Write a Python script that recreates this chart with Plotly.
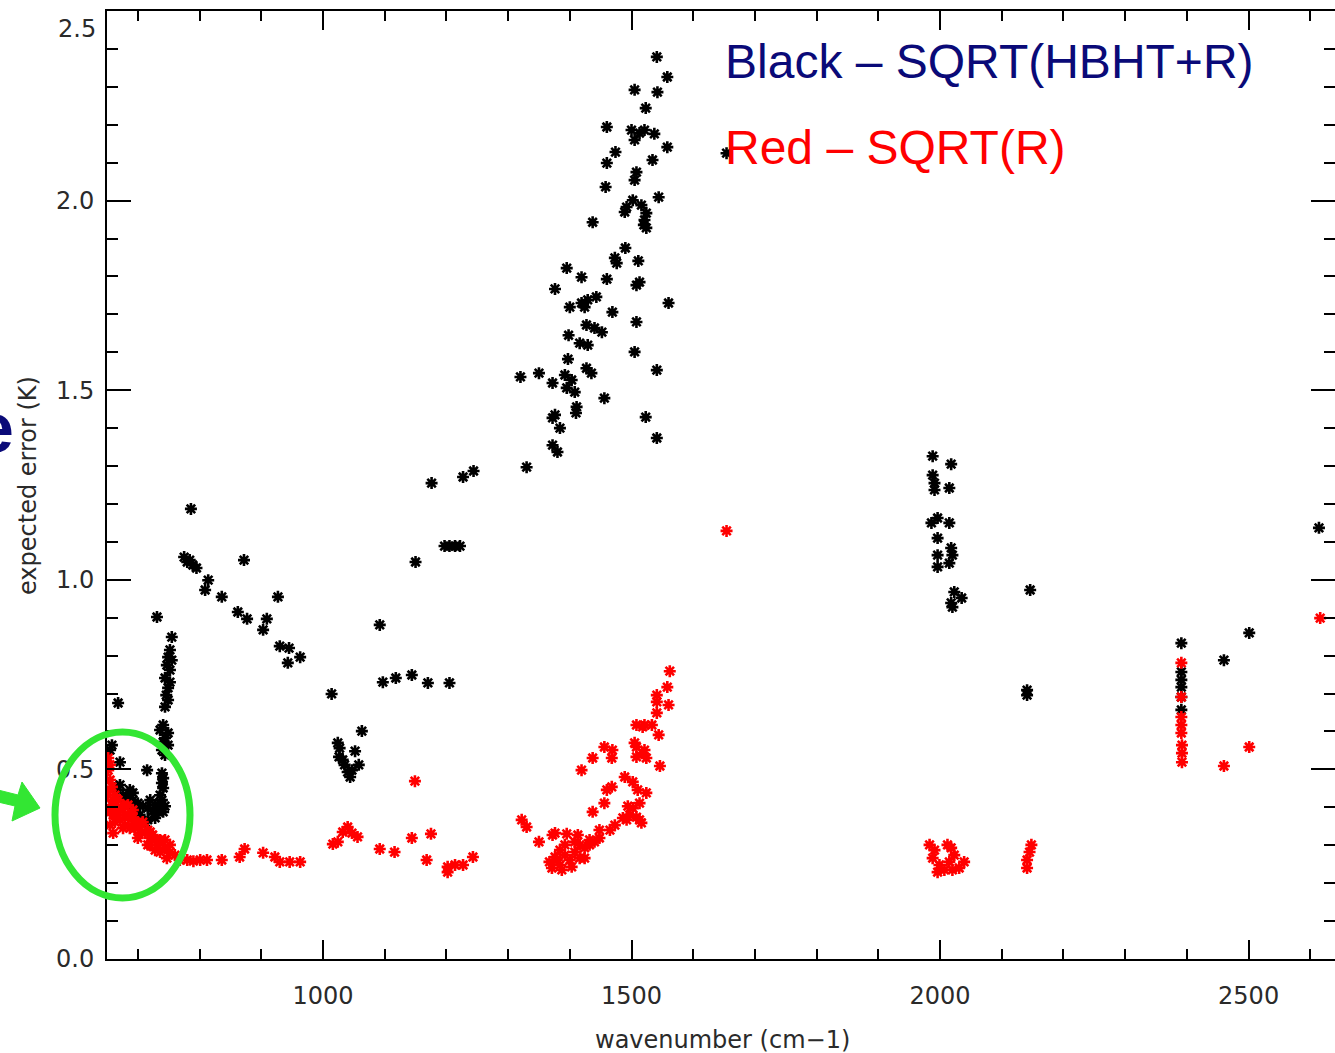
import plotly.graph_objects as go

# ---------------- data (wavenumber cm-1, expected error K) ----------------
black_left = [(655,0.551),(658,0.564),(671,0.519),(668,0.675),(715,0.498),
    (663,0.451),(668,0.446),(676,0.432),(684,0.427),(692,0.419),(700,0.411),(708,0.403),(716,0.398),
    (724,0.390),(733,0.388),(741,0.388),(716,0.367),(703,0.380),(712,0.361),(679,0.419),(695,0.398),
    (728,0.372),(744,0.403),(671,0.459),(687,0.446),(720,0.419),(728,0.406),(736,0.411),(692,0.438)]
black_column = [(731,0.902),(755,0.849),(752,0.815),(749,0.796),(755,0.788),(747,0.775),(752,0.762),
    (744,0.741),(752,0.730),(749,0.715),(746,0.696),(749,0.683),(744,0.665),(741,0.617),(736,0.604),
    (749,0.596),(744,0.583),(741,0.572),(749,0.564),(739,0.551),(744,0.538),(739,0.490),(741,0.477),
    (739,0.464),(741,0.451),(736,0.432),(739,0.419)]
black_arc = [(786,1.187),(780,1.047),(789,1.039),(784,1.052),(795,1.031),(775,1.060),(814,0.999),
    (809,0.973),(836,0.955),(872,1.052),(862,0.915),(877,0.897),(909,0.897),(903,0.868),(927,0.955),
    (930,0.825),(945,0.820),(963,0.796),(943,0.781)]
black_mid = [(1014,0.699),(1063,0.601),(1024,0.570),(1026,0.533),(1052,0.548),(1040,0.493),(1058,0.512),
    (1044,0.480),(1027,0.556),(1035,0.512),(1047,0.498),(1032,0.525),
    (1097,0.730),(1118,0.741),(1144,0.749),(1170,0.728),(1205,0.728),(1092,0.881),
    (1176,1.255),(1227,1.271),(1244,1.287),(1197,1.089),(1205,1.089),(1214,1.089),(1222,1.089),(1150,1.047)]
black_upper = [(1541,2.379),(1558,2.326),(1505,2.292),(1542,2.286),(1523,2.244),(1460,2.194),(1500,2.186),
    (1513,2.178),(1521,2.186),(1505,2.160),(1537,2.176),(1558,2.141),(1474,2.128),(1460,2.099),(1534,2.107),
    (1508,2.075),(1505,2.054),(1458,2.036),(1544,2.009),(1502,2.001),(1492,1.983),(1516,1.988),(1489,1.970),
    (1524,1.967),(1521,1.949),(1524,1.928),(1520,1.936),(1437,1.943),(1490,1.875),(1473,1.849),(1476,1.835),
    (1511,1.841),(1395,1.822),(1419,1.798),(1460,1.793),(1513,1.785),(1508,1.777),(1376,1.767),(1400,1.719),
    (1419,1.730),(1429,1.738),(1443,1.746),(1424,1.719),(1469,1.706),(1560,1.730),(1508,1.680),(1427,1.672),
    (1440,1.664),(1452,1.653),(1398,1.645),(1416,1.624),(1429,1.619),(1505,1.601),(1397,1.582),(1427,1.558),
    (1435,1.545),(1541,1.553),(1320,1.535),(1350,1.545),(1392,1.540),(1403,1.527),(1395,1.506),(1408,1.495),
    (1372,1.519),(1456,1.479),(1411,1.456),(1410,1.440),(1376,1.435),(1372,1.427),(1523,1.429),(1384,1.400),
    (1541,1.374),(1372,1.355),(1380,1.337),(1330,1.297),(1654,2.125)]
black_right = [(1988,1.326),(2018,1.305),(1988,1.276),(1991,1.255),(1991,1.237),(2015,1.242),(1986,1.150),
    (1996,1.163),(2015,1.150),(1996,1.110),(1996,1.065),(2018,1.084),(2020,1.065),(2015,1.044),(1996,1.034),
    (2023,0.968),(2035,0.952),(2020,0.928),(2018,0.939),
    (2146,0.973),(2141,0.709),(2141,0.696),
    (2391,0.833),(2391,0.757),(2391,0.717),(2391,0.691),(2391,0.657),(2391,0.736),(2460,0.788),(2501,0.860),
    (2614,1.137)]

red_left = [(652,0.530),(655,0.512),(652,0.498),(655,0.472),(658,0.454),(652,0.432),(663,0.432),(668,0.419),
    (658,0.406),(671,0.393),(679,0.380),(684,0.406),(692,0.372),(700,0.361),(687,0.345),(703,0.340),(712,0.332),
    (720,0.319),(728,0.314),(733,0.301),(744,0.293),(736,0.282),(752,0.282),(760,0.274),(747,0.266),(768,0.261),
    (671,0.367),(679,0.353),(660,0.380),(655,0.353),(660,0.332),(716,0.301),(728,0.287),(676,0.395),(690,0.385),
    (705,0.355),(695,0.350),(720,0.335),
    (655,0.446),(660,0.419),(655,0.388),(668,0.388),(663,0.361),(676,0.406),(684,0.372),(676,0.345),
    (692,0.393),(695,0.345),(708,0.361),(716,0.340),(700,0.319),(724,0.327),(736,0.314),(744,0.314),
    (752,0.301),(720,0.301)]
red_flat = [(780,0.261),(801,0.261),(812,0.261),(836,0.261),(790,0.258),(865,0.269),(873,0.290),(903,0.280),
    (922,0.269),(930,0.256),(946,0.256),(963,0.256),
    (1016,0.303),(1024,0.309),(1040,0.348),(1047,0.332),(1056,0.322),(1032,0.335),(1092,0.290),(1116,0.282),
    (1144,0.319),(1175,0.330),(1149,0.469),(1168,0.261),(1202,0.243),(1214,0.248),(1227,0.248),(1243,0.269),
    (1202,0.229)]
red_rise = [(1322,0.367),(1330,0.348),(1350,0.309),(1372,0.327),(1379,0.261),(1367,0.256),(1376,0.269),
    (1384,0.248),(1392,0.274),(1384,0.287),(1400,0.261),(1408,0.282),(1416,0.266),(1424,0.293),(1432,0.301),
    (1424,0.266),(1440,0.309),(1448,0.319),(1392,0.301),(1408,0.309),(1371,0.240),(1387,0.235),(1403,0.243),
    (1416,0.301),(1395,0.330),(1413,0.327),(1432,0.314),(1376,0.332),
    (1419,0.498),(1437,0.530),(1456,0.559),(1469,0.551),(1468,0.530),(1508,0.617),(1518,0.612),(1508,0.559),
    (1508,0.533),(1518,0.543),(1489,0.480),(1460,0.446),(1468,0.454),(1456,0.411),(1437,0.388),(1502,0.467),
    (1510,0.446),(1513,0.411),(1502,0.398),(1513,0.367),(1486,0.372),(1473,0.353),(1448,0.340),(1465,0.340),
    (1494,0.403),(1497,0.380),(1492,0.367),(1508,0.374),(1516,0.359),(1524,0.438),
    (1562,0.759),(1558,0.717),(1541,0.696),(1541,0.678),(1560,0.670),(1541,0.649),(1521,0.617),(1533,0.617),
    (1544,0.591),(1505,0.570),(1521,0.551),(1524,0.530),(1546,0.509),(1654,1.129)]
red_right = [(1983,0.301),(1991,0.287),(1988,0.266),(1999,0.248),(2007,0.235),(2015,0.256),(2018,0.293),
    (2023,0.274),(2031,0.240),(2039,0.256),(2012,0.301),(1996,0.229),(2020,0.235),
    (2148,0.301),(2145,0.282),(2141,0.261),(2141,0.240),
    (2391,0.781),(2391,0.691),(2391,0.638),(2391,0.596),(2392,0.564),(2392,0.543),(2392,0.519),(2391,0.617),
    (2501,0.559),(2460,0.509),(2616,0.899)]

x_major_ticks = [1000, 1500, 2000, 2500]
y_major_ticks = [0.0, 0.5, 1.0, 1.5, 2.0]
y_tick_labels = ["0.0", "0.5", "1.0", "1.5", "2.0"]

black_pts = black_left + black_column + black_arc + black_mid + black_upper + black_right
red_pts = red_left + red_flat + red_rise + red_right

# ---------------- layout geometry ----------------
W, H = 1335, 1053
L, R, T, B = 107, 0, 11, 94
PW, PH = W - L - R, H - T - B

def pxx(x):
    return (x - L) / PW

def pxy(y):
    return (T + PH - y) / PH

TICKFONT = dict(family="DejaVu Sans", size=24, color="#2a2a2a")
GREEN = "#33e633"
NAVY = "#0a0a78"

fig = go.Figure()
marker_common = dict(symbol="asterisk-open", size=10)
fig.add_trace(go.Scatter(x=[p[0] for p in black_pts], y=[p[1] for p in black_pts], mode="markers",
                         marker=dict(color="black", line=dict(color="black", width=2.6), **marker_common),
                         showlegend=False, hoverinfo="skip"))
fig.add_trace(go.Scatter(x=[p[0] for p in red_pts], y=[p[1] for p in red_pts], mode="markers",
                         marker=dict(color="#ff0000", line=dict(color="#ff0000", width=2.6), **marker_common),
                         showlegend=False, hoverinfo="skip"))

fig.update_layout(
    width=W, height=H, margin=dict(l=L, r=R, t=T, b=B, autoexpand=False),
    paper_bgcolor="white", plot_bgcolor="white",
    xaxis=dict(range=[650, 2640], tickmode="array", tickvals=x_major_ticks,
               ticks="inside", ticklen=19, tickwidth=2, tickcolor="black",
               showline=True, linewidth=2, linecolor="black", mirror="ticks",
               showgrid=False, zeroline=False, tickfont=TICKFONT, ticklabelstandoff=14,
               minor=dict(tickmode="linear", tick0=0, dtick=100, ticks="inside", ticklen=10,
                          tickwidth=2, tickcolor="black", showgrid=False)),
    yaxis=dict(range=[0, 2.5], tickmode="array", tickvals=y_major_ticks, ticktext=y_tick_labels,
               ticks="inside", ticklen=24, tickwidth=2, tickcolor="black",
               showline=True, linewidth=2, linecolor="black", mirror="ticks",
               showgrid=False, zeroline=False, tickfont=TICKFONT, ticklabelstandoff=6,
               minor=dict(tickmode="linear", tick0=0, dtick=0.1, ticks="inside", ticklen=11,
                          tickwidth=2, tickcolor="black", showgrid=False)),
)

ann = []
ann.append(dict(text="2.5", xref="paper", yref="paper", x=pxx(98), y=pxy(29), xanchor="right",
                yanchor="middle", showarrow=False, font=TICKFONT))
ann.append(dict(text="wavenumber (cm\u22121)", xref="paper", yref="paper", x=pxx(722), y=pxy(1040),
                xanchor="center", yanchor="middle", showarrow=False, font=TICKFONT))
ann.append(dict(text="expected error (K)", xref="paper", yref="paper", x=pxx(28), y=pxy(486),
                xanchor="center", yanchor="middle", textangle=-90, showarrow=False, font=TICKFONT))
ann.append(dict(text="Black \u2013 SQRT(HBHT+R)", xref="paper", yref="paper", x=pxx(723), y=pxy(62),
                xanchor="left", yanchor="middle", showarrow=False,
                font=dict(family="Liberation Sans", size=48, color=NAVY)))
ann.append(dict(text="Red \u2013 SQRT(R)", xref="paper", yref="paper", x=pxx(723), y=pxy(148),
                xanchor="left", yanchor="middle", showarrow=False,
                font=dict(family="Liberation Sans", size=48, color="#ff0000")))
ann.append(dict(text="<b>e</b>", xref="paper", yref="paper", x=pxx(16), y=pxy(428),
                xanchor="right", yanchor="middle", showarrow=False,
                font=dict(family="Liberation Sans", size=70, color=NAVY)))
fig.update_layout(annotations=ann)

# green ellipse and arrow (decorations, in pixel space)
fig.add_shape(type="circle", xref="paper", yref="paper", x0=pxx(55), x1=pxx(190), y0=pxy(898), y1=pxy(732),
              line=dict(color=GREEN, width=7), layer="above")
arrow_px = [(-2, 790), (18, 795), (22, 782), (40, 808), (12, 821), (15, 806), (-2, 802)]
path = "M " + " L ".join(f"{pxx(a):.5f},{pxy(b):.5f}" for a, b in arrow_px) + " Z"
fig.add_shape(type="path", xref="paper", yref="paper", path=path,
              fillcolor=GREEN, line=dict(color=GREEN, width=1), layer="above")

fig.write_html("out.html")
